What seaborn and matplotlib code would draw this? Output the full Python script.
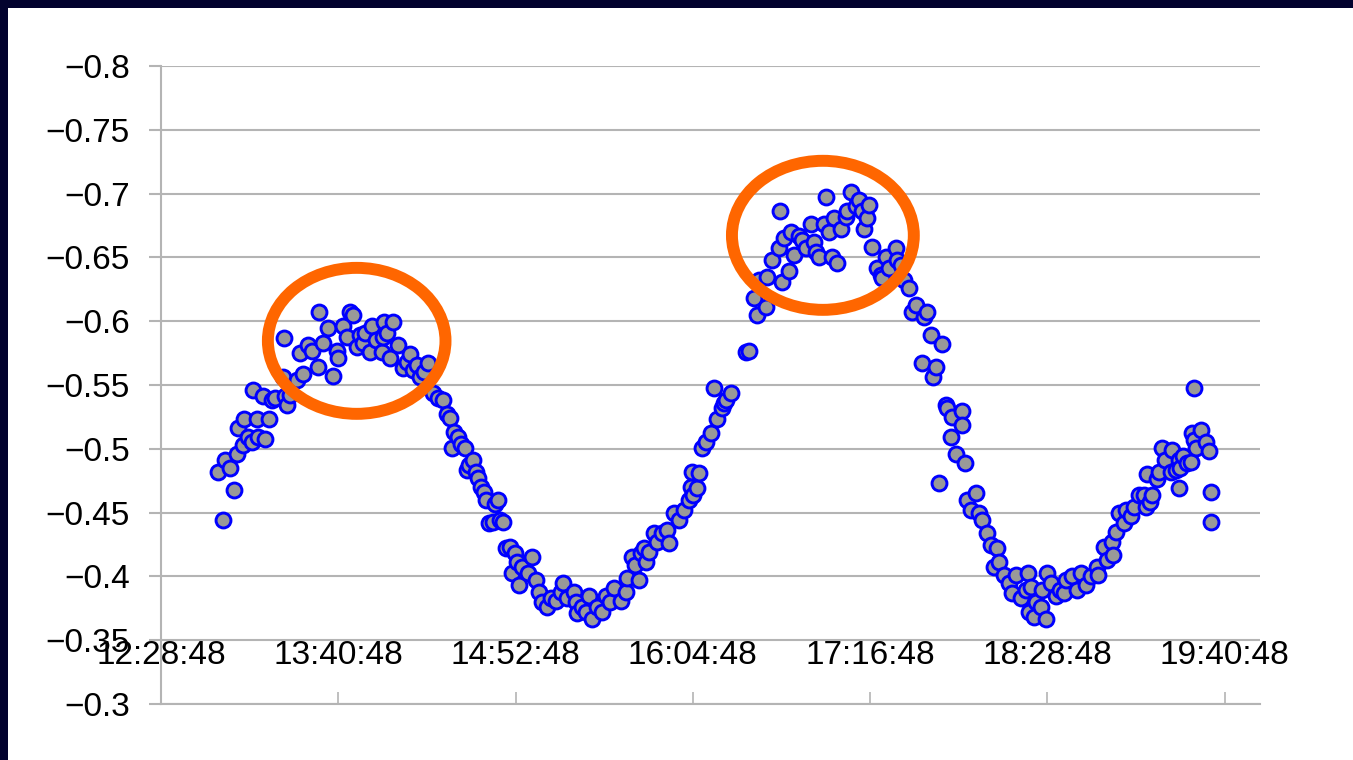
import numpy as np
import pandas as pd
import matplotlib
matplotlib.use("Agg")
import matplotlib.pyplot as plt
from matplotlib.patches import Ellipse, Rectangle
import seaborn as sns

# Measurement times (minutes after 12:00) and measured potential values
minutes = [
    51.9, 53.9, 54.7, 56.8, 58.4, 59.6, 59.9, 62.1, 62.4, 64.1, 65.7, 66.1, 67.7, 68.1,
    70.2, 71.0, 72.6, 73.8, 75.0, 78.3, 78.6, 79.1, 79.9, 81.1, 84.0, 85.2, 86.4, 88.4,
    90.0, 92.5, 92.8, 94.5, 96.5, 98.6, 100.2, 100.6, 102.6, 104.2, 105.5, 106.7, 108.3,
    109.5, 110.7, 111.5, 113.6, 114.4, 116.0, 118.4, 118.8, 119.2, 120.5, 121.7, 122.9,
    124.9, 127.0, 128.6, 129.8, 131.0, 132.6, 133.9, 135.5, 137.1, 139.1, 141.2, 143.2,
    144.8, 146.0, 146.8, 148.0, 149.3, 150.5, 152.1, 152.9, 154.1, 155.4, 156.6, 157.4,
    158.6, 159.8, 161.0, 162.2, 163.5, 164.3, 165.5, 166.7, 167.9, 169.1, 170.4, 171.2,
    172.4, 173.2, 174.4, 175.6, 177.7, 179.3, 181.3, 182.5, 183.7, 185.4, 187.4, 189.4,
    191.4, 191.9, 193.9, 196.7, 197.5, 197.9, 200.0, 201.6, 202.8, 204.0, 206.1, 208.1,
    209.7, 211.3, 212.9, 215.8, 217.8, 218.2, 220.2, 221.5, 223.1, 223.9, 225.1, 225.9,
    227.1, 229.2, 230.4, 232.4, 234.4, 235.3, 237.3, 239.3, 241.3, 243.4, 244.2, 244.6,
    245.0, 246.6, 247.4, 248.6, 250.3, 252.3, 253.5, 254.7, 256.7, 257.6, 258.4, 260.4,
    266.5, 267.7, 269.7, 270.9, 271.8, 274.6, 275.0, 277.0, 279.9, 280.2, 281.1, 281.9,
    283.9, 284.7, 286.0, 288.0, 289.2, 290.8, 292.8, 294.1, 294.9, 296.1, 298.1, 298.9,
    300.1, 301.4, 302.2, 303.4, 305.0, 307.1, 307.3, 309.1, 311.1, 312.3, 313.5, 314.3,
    315.6, 316.4, 317.6, 319.6, 321.2, 321.6, 323.3, 324.5, 327.3, 327.7, 329.4, 330.6,
    332.6, 333.8, 335.4, 337.9, 338.7, 339.9, 341.5, 342.3, 343.5, 344.8, 346.0, 347.6,
    348.0, 349.6, 350.0, 351.7, 354.1, 354.3, 355.3, 356.1, 357.7, 359.8, 361.0, 362.2,
    364.2, 365.9, 367.1, 368.3, 369.1, 371.1, 373.2, 374.4, 376.0, 378.0, 380.1, 381.1,
    381.5, 382.1, 383.3, 384.1, 386.1, 386.5, 388.2, 388.5, 390.2, 392.2, 393.8, 395.5,
    396.3, 398.7, 400.7, 402.4, 404.4, 406.4, 408.8, 409.2, 411.7, 412.9, 414.9, 415.3,
    416.6, 417.8, 419.8, 420.6, 423.0, 423.9, 425.9, 427.9, 428.7, 429.1, 430.7, 431.2,
    433.2, 434.0, 435.2, 436.8, 438.9, 439.3, 440.9, 442.1, 442.3, 442.9, 444.1, 445.4,
    447.0, 447.4, 448.2, 448.4, 449.4, 451.4, 453.1, 454.3, 455.1, 455.3,
]
potential = [
    -0.482, -0.444, -0.491, -0.485, -0.468, -0.496, -0.516, -0.503, -0.523, -0.509, -0.505,
    -0.546, -0.523, -0.509, -0.541, -0.508, -0.523, -0.538, -0.540, -0.556, -0.587, -0.541,
    -0.534, -0.542, -0.554, -0.575, -0.559, -0.581, -0.577, -0.564, -0.607, -0.583, -0.595,
    -0.557, -0.577, -0.571, -0.596, -0.588, -0.607, -0.605, -0.580, -0.589, -0.583, -0.591,
    -0.576, -0.596, -0.585, -0.576, -0.588, -0.599, -0.591, -0.571, -0.599, -0.581, -0.563,
    -0.568, -0.574, -0.562, -0.566, -0.556, -0.560, -0.567, -0.544, -0.540, -0.538, -0.527,
    -0.524, -0.501, -0.513, -0.509, -0.504, -0.501, -0.483, -0.487, -0.491, -0.482, -0.477,
    -0.470, -0.466, -0.460, -0.442, -0.443, -0.457, -0.460, -0.444, -0.443, -0.422, -0.423,
    -0.403, -0.418, -0.411, -0.393, -0.407, -0.403, -0.415, -0.397, -0.388, -0.380, -0.376,
    -0.383, -0.381, -0.388, -0.395, -0.383, -0.388, -0.380, -0.371, -0.376, -0.372, -0.385,
    -0.367, -0.376, -0.372, -0.385, -0.380, -0.391, -0.381, -0.388, -0.399, -0.415, -0.409,
    -0.397, -0.418, -0.422, -0.411, -0.419, -0.434, -0.427, -0.434, -0.436, -0.426, -0.450,
    -0.444, -0.452, -0.460, -0.470, -0.482, -0.464, -0.469, -0.481, -0.501, -0.505, -0.512,
    -0.548, -0.523, -0.532, -0.536, -0.538, -0.544, -0.576, -0.577, -0.618, -0.605, -0.632,
    -0.611, -0.635, -0.648, -0.657, -0.686, -0.631, -0.665, -0.639, -0.670, -0.652, -0.667,
    -0.664, -0.657, -0.676, -0.662, -0.654, -0.650, -0.676, -0.697, -0.670, -0.650, -0.681,
    -0.646, -0.672, -0.682, -0.686, -0.701, -0.690, -0.695, -0.686, -0.672, -0.681, -0.691,
    -0.658, -0.642, -0.636, -0.634, -0.650, -0.642, -0.657, -0.648, -0.644, -0.632, -0.626,
    -0.607, -0.613, -0.567, -0.603, -0.607, -0.589, -0.556, -0.564, -0.473, -0.582, -0.534,
    -0.532, -0.509, -0.525, -0.496, -0.530, -0.519, -0.489, -0.460, -0.452, -0.465, -0.450,
    -0.444, -0.434, -0.425, -0.407, -0.422, -0.411, -0.401, -0.395, -0.387, -0.401, -0.383,
    -0.389, -0.403, -0.372, -0.392, -0.368, -0.380, -0.376, -0.389, -0.367, -0.403, -0.395,
    -0.385, -0.389, -0.387, -0.397, -0.400, -0.389, -0.403, -0.393, -0.400, -0.407, -0.401,
    -0.423, -0.413, -0.427, -0.417, -0.435, -0.450, -0.442, -0.452, -0.447, -0.454, -0.464,
    -0.464, -0.454, -0.480, -0.458, -0.464, -0.476, -0.482, -0.501, -0.491, -0.482, -0.499,
    -0.483, -0.491, -0.469, -0.485, -0.494, -0.489, -0.490, -0.512, -0.548, -0.507, -0.501,
    -0.515, -0.505, -0.498, -0.466, -0.443,
]

# Axis ticks (time axis in fractions of a day)
x_ticks = [0.52, 0.57, 0.62, 0.67, 0.72, 0.77, 0.82]
x_tick_labels = ["12:28:48", "13:40:48", "14:52:48", "16:04:48",
                 "17:16:48", "18:28:48", "19:40:48"]
y_ticks = [-0.8, -0.75, -0.7, -0.65, -0.6, -0.55, -0.5, -0.45, -0.4, -0.35, -0.3]

# Highlighted peaks: (centre time [day fraction], centre value, width [day], height)
highlights = [
    (0.5752, -0.5846, 0.0501, 0.1144),
    (0.7067, -0.6673, 0.0513, 0.1168),
]

df = pd.DataFrame({
    "time": [(720 + m) / 1440 for m in minutes],
    "potential": potential,
})

sns.set_style("white")
plt.rcParams["font.family"] = ["Liberation Sans", "DejaVu Sans"]
plt.rcParams["axes.unicode_minus"] = True

W, H = 1353, 760
fig = plt.figure(figsize=(W / 100, H / 100), dpi=100)
fig.patch.set_facecolor("#02022e")
# white slide panel behind the chart
panel = Rectangle((8 / W, 0), 1, 1 - 8 / H, transform=fig.transFigure,
                  facecolor="white", edgecolor="none", zorder=-10)
fig.add_artist(panel)

ax = fig.add_axes([161 / W, (H - 704) / H, (1260 - 161) / W, (704 - 66) / H])
ax.set_zorder(1)
ax.set_facecolor("white")

grid_col = "#b4b4b4"
sns.scatterplot(data=df, x="time", y="potential", ax=ax, s=115,
                color="#999999", edgecolor="#0000ff", linewidth=2.1, zorder=3,
                legend=False)

for cx, cy, w, h in highlights:
    ax.add_patch(Ellipse((cx, cy), w, h, fill=False, edgecolor="#ff6600",
                         linewidth=8.6, zorder=4))

ax.set_xlim(0.52, 0.83)
ax.set_ylim(-0.3, -0.8)

ax.set_yticks(y_ticks)
ax.set_yticklabels([f"{v:g}".replace("-", "\u2212") for v in y_ticks])
ax.set_xticks(x_ticks)
ax.set_xticklabels(x_tick_labels)

ax.grid(axis="y", color=grid_col, linewidth=1.5)
ax.grid(axis="x", visible=False)
ax.set_axisbelow(True)

for side in ["top", "right"]:
    ax.spines[side].set_visible(False)
for side in ["left", "bottom"]:
    ax.spines[side].set_color(grid_col)
    ax.spines[side].set_linewidth(1.5)

ax.tick_params(axis="y", direction="out", length=8.6, width=1.5, color=grid_col,
               pad=14, labelsize=24, labelcolor="black", left=True)
ax.tick_params(axis="x", direction="in", length=8.6, width=1.2, color=grid_col,
               pad=-46, labelsize=24, labelcolor="black", bottom=True)

ax.set_xlabel("")
ax.set_ylabel("")

fig.savefig("out.png", dpi=100, facecolor=fig.get_facecolor())
